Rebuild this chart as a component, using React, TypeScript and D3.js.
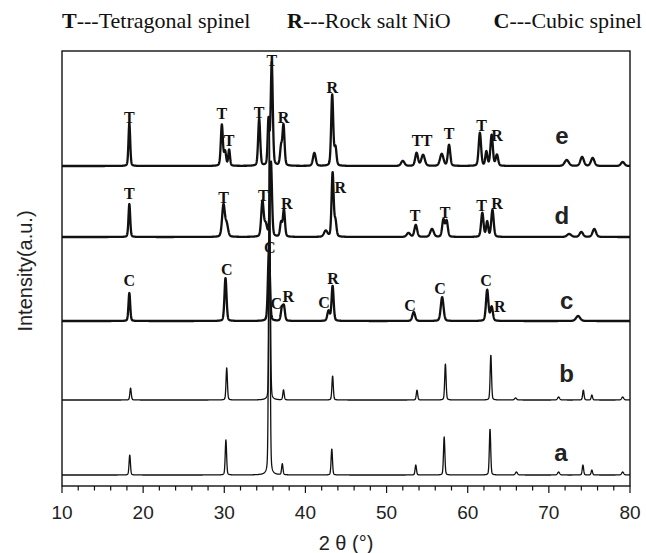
import React, { useMemo } from 'react';
import * as d3 from 'd3';

// ---------- data ----------
const X_TICKS = [10, 20, 30, 40, 50, 60, 70, 80];
const X_MINOR = d3.range(10, 80.001, 2);
const SAMPLES = ['a', 'b', 'c', 'd', 'e'];
const BASELINES = [11, 86, 165, 249, 320];

// [2θ, height (a.u.), FWHM (°)]
const PEAKS_A = [
  [18.35, 20, 0.2], [30.2, 35, 0.2], [35.55, 356, 0.2], [37.15, 11, 0.2], [43.25, 26, 0.2],
  [53.6, 10, 0.2], [57.1, 38, 0.2], [62.75, 46, 0.2], [66.0, 3, 0.3], [71.2, 3, 0.3],
  [74.2, 10, 0.2], [75.3, 5, 0.2], [79.1, 3, 0.3],
];
const PEAKS_B = [
  [18.45, 12, 0.2], [30.3, 32, 0.2], [35.6, 200, 0.2], [37.3, 10, 0.2], [43.35, 24, 0.2],
  [53.75, 10, 0.2], [57.25, 36, 0.2], [62.85, 45, 0.2], [65.9, 2, 0.3], [71.2, 3, 0.3],
  [74.25, 10, 0.2], [75.3, 5, 0.2], [79.1, 3, 0.3],
];
const PEAKS_C = [
  [18.3, 28, 0.25], [30.15, 43, 0.3], [35.5, 70, 0.3], [37.1, 12, 0.3], [37.35, 14, 0.3],
  [42.85, 10, 0.35], [43.35, 35, 0.3], [53.35, 9, 0.4], [56.85, 24, 0.4], [62.4, 31, 0.35],
  [62.95, 14, 0.35], [73.6, 5, 0.6],
];
const PEAKS_D = [
  [18.3, 33, 0.25], [29.9, 32, 0.4], [30.3, 12, 0.4], [34.7, 35, 0.35], [35.1, 12, 0.4],
  [35.75, 75, 0.3], [37.0, 14, 0.3], [37.35, 27, 0.3], [42.5, 6, 0.5], [43.35, 64, 0.3],
  [43.7, 15, 0.3], [52.7, 4, 0.5], [53.6, 12, 0.4], [55.6, 8, 0.5], [57.0, 17, 0.35],
  [57.4, 16, 0.35], [61.8, 24, 0.35], [62.4, 15, 0.3], [63.05, 27, 0.35], [72.5, 3, 0.6],
  [74.0, 5, 0.5], [75.6, 8, 0.5],
];
const PEAKS_E = [
  [18.3, 43, 0.25], [29.7, 41, 0.3], [30.1, 14, 0.3], [30.6, 16, 0.25], [34.3, 47, 0.3],
  [35.45, 45, 0.25], [35.85, 103, 0.3], [37.0, 18, 0.3], [37.3, 40, 0.3], [41.1, 13, 0.4],
  [43.3, 71, 0.3], [43.7, 18, 0.3], [52.0, 5, 0.5], [53.7, 13, 0.4], [54.5, 11, 0.5],
  [56.8, 12, 0.5], [57.7, 21, 0.35], [61.5, 33, 0.35], [62.3, 14, 0.3], [62.95, 31, 0.35],
  [63.6, 11, 0.35], [72.2, 6, 0.6], [74.1, 9, 0.5], [75.4, 8, 0.5], [79.1, 4, 0.5],
];
const PEAK_TABLES = [PEAKS_A, PEAKS_B, PEAKS_C, PEAKS_D, PEAKS_E];

// peak annotations: [2θ, letter, level]
const NOTES = [
  [18.3, 'T', 369], [29.7, 'T', 373], [30.6, 'T', 346], [34.3, 'T', 374], [35.85, 'T', 426],
  [37.3, 'R', 369], [43.3, 'R', 399], [53.75, 'T', 346], [55.0, 'T', 346], [57.7, 'T', 353],
  [61.7, 'T', 361], [63.6, 'R', 351],
  [18.3, 'T', 293], [29.9, 'T', 289], [34.8, 'T', 291], [37.7, 'R', 283], [44.3, 'R', 299],
  [53.5, 'T', 271], [57.2, 'T', 274], [61.7, 'T', 281], [63.6, 'R', 283],
  [18.3, 'C', 206], [30.3, 'C', 217], [35.6, 'C', 239], [36.4, 'C', 183], [37.9, 'R', 190],
  [42.3, 'C', 184], [43.4, 'R', 208], [52.9, 'C', 181], [56.6, 'C', 198], [62.25, 'C', 206],
  [63.95, 'R', 180],
];
// sample letters: [2θ, level]
const SAMPLE_POS = [[71.5, 34], [72.2, 113], [72.2, 186], [71.6, 271], [71.6, 351]];

const LEGEND = [['T', '---Tetragonal spinel'], ['R', '---Rock salt NiO'], ['C', '---Cubic spinel']];

// ---------- layout ----------
const W = 646, H = 553;
const PL = 62, PR = 630, PT = 51, PB = 486;
const SANS = '"Liberation Sans", Arial, Helvetica, sans-serif';
const SERIF = '"Liberation Serif", "Times New Roman", serif';

function pv(x: number, c: number, h: number, w: number) {
  const d = (x - c) / (w / 2);
  const g = Math.exp(-Math.LN2 * d * d);
  const l = 1 / (1 + d * d);
  return h * (0.75 * g + 0.25 * l);
}

export default function App() {
  const x = d3.scaleLinear().domain([10, 80]).range([PL, PR]);
  const y = d3.scaleLinear().domain([0, 435]).range([PB, PT]);

  const paths = useMemo(() => {
    const grid = d3.range(10, 80.0001, 0.02);
    return PEAK_TABLES.map((peaks, i) => {
      const pts = grid.map((t) => {
        let v = BASELINES[i];
        for (const [c, h, w] of peaks) v += pv(t, c, h, w);
        return [t, v] as [number, number];
      });
      return d3.line<[number, number]>().x((p) => x(p[0])).y((p) => y(p[1]))(pts) as string;
    });
  }, []);

  return (
    <svg width={W} height={H} style={{ display: 'block', position: 'absolute', left: 0, top: 0 }}>
      <rect width={W} height={H} fill="#fff" />
      {/* legend */}
      <text x={62} y={28} fontFamily={SERIF} fontSize={22} fill="#111">
        <tspan fontWeight="bold">{LEGEND[0][0]}</tspan>{LEGEND[0][1]}
      </text>
      <text x={287} y={28} fontFamily={SERIF} fontSize={22} fill="#111">
        <tspan fontWeight="bold">{LEGEND[1][0]}</tspan>{LEGEND[1][1]}
      </text>
      <text x={642} y={28} textAnchor="end" fontFamily={SERIF} fontSize={22} fill="#111">
        <tspan fontWeight="bold">{LEGEND[2][0]}</tspan>{LEGEND[2][1]}
      </text>

      {/* traces */}
      {paths.map((p, i) => (
        <path key={i} d={p} fill="none" stroke="#111" strokeWidth={i >= 2 ? 2.3 : 1.3} strokeLinejoin="round" />
      ))}

      {/* frame */}
      <rect x={PL} y={PT} width={PR - PL} height={PB - PT} fill="none" stroke="#111" strokeWidth={1.4} />

      {/* ticks */}
      {X_MINOR.map((t) => (
        <line key={'m' + t} x1={x(t)} x2={x(t)} y1={PB} y2={PB + (t % 10 === 0 ? 7 : 4.5)} stroke="#111" strokeWidth={1.2} />
      ))}
      {X_TICKS.map((t) => (
        <text key={'t' + t} x={x(t)} y={519} textAnchor="middle" fontFamily={SANS} fontSize={19} fill="#222">{t}</text>
      ))}
      <text x={(PL + PR) / 2} y={550} textAnchor="middle" fontFamily={SANS} fontSize={20} fill="#222">2 θ (°)</text>
      <text transform={`translate(${25},${271}) rotate(-90)`} textAnchor="middle" dominantBaseline="central" fontFamily={SANS} fontSize={20} fill="#222">Intensity(a.u.)</text>

      {/* peak labels */}
      {NOTES.map(([t, s, v], i) => (
        <text key={'n' + i} x={x(t as number)} y={y(v as number)} textAnchor="middle" dominantBaseline="central" fontFamily={SERIF} fontWeight="bold" fontSize={16} fill="#111">{s}</text>
      ))}

      {/* sample letters */}
      {SAMPLE_POS.map(([t, v], i) => (
        <text key={'s' + i} x={x(t)} y={y(v)} textAnchor="middle" dominantBaseline="central" fontFamily={SANS} fontWeight="bold" fontSize={24} fill="#222">{SAMPLES[i]}</text>
      ))}
    </svg>
  );
}
